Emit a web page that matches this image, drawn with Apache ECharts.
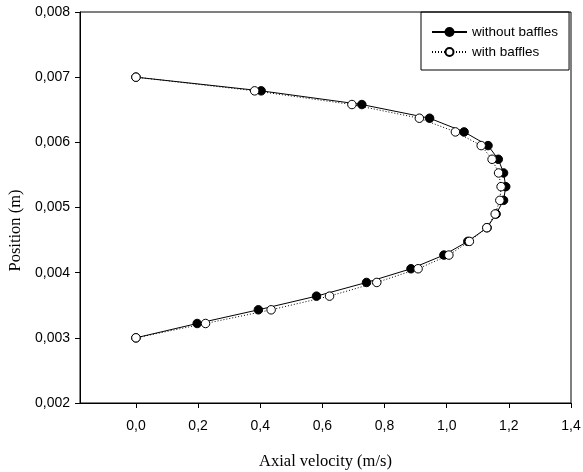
<!DOCTYPE html>
<html>
<head>
	<meta charset="utf-8">
	<title>Axial velocity profile</title>
	<script src="https://cdn.jsdelivr.net/npm/echarts@6/dist/echarts.min.js"></script>
	<style>
		html, body {
			margin: 0;
			padding: 0;
			background: #fff;
		}
		#main {
			width: 583px;
			height: 472px;
		}
	</style>
</head>
<body>
	<div id="main"></div>
	<script type="text/javascript">
		// position across the channel (m)
		var positions = [0.00700, 0.00679, 0.00658, 0.00637, 0.00616, 0.00595, 0.00574, 0.00553, 0.00532, 0.00511,
			0.00490, 0.00469, 0.00448, 0.00427, 0.00406, 0.00385, 0.00364, 0.00343, 0.00322, 0.00300];
		// axial velocity (m/s)
		var withoutBaffles = [0.000, 0.403, 0.727, 0.945, 1.056, 1.133, 1.166, 1.183, 1.190, 1.183,
			1.159, 1.130, 1.068, 0.991, 0.885, 0.742, 0.581, 0.394, 0.197, 0.000];
		var withBaffles = [0.000, 0.382, 0.695, 0.912, 1.028, 1.111, 1.146, 1.167, 1.175, 1.171,
			1.156, 1.129, 1.073, 1.007, 0.908, 0.775, 0.623, 0.435, 0.224, 0.000];
		var xTicks = [0.0, 0.2, 0.4, 0.6, 0.8, 1.0, 1.2, 1.4];

		function pairs(vals) {
			var out = [];
			for (var i = 0; i < vals.length; i++) {
				out.push([vals[i], positions[i]]);
			}
			return out;
		}

		var labelFont = 'Arial, "Liberation Sans", sans-serif';
		var titleFont = '"Times New Roman", "Liberation Serif", serif';

		var option = {
			backgroundColor: '#fff',
			animation: false,
			grid: {
				left: 80,
				right: 12,
				top: 12,
				bottom: 69,
				outerBoundsMode: 'none',
				containLabel: false,
				show: true,
				borderColor: '#000',
				borderWidth: 1
			},
			legend: {
				left: 421,
				top: 12,
				orient: 'vertical',
				borderColor: '#000',
				borderWidth: 1,
				padding: [13, 11, 11, 10],
				itemWidth: 35,
				itemHeight: 10,
				itemGap: 6,
				textStyle: {
					color: '#000',
					fontSize: 13.5,
					fontFamily: labelFont
				},
				data: ['without baffles', 'with baffles']
			},
			xAxis: {
				type: 'value',
				min: -0.18,
				max: 1.4,
				name: 'Axial velocity (m/s)',
				nameLocation: 'middle',
				nameGap: 50,
				nameTextStyle: {
					color: '#000',
					fontSize: 16.5,
					fontFamily: titleFont
				},
				axisLine: {
					onZero: false,
					lineStyle: { color: '#000', width: 1 }
				},
				axisTick: {
					show: true,
					length: 5,
					customValues: xTicks,
					lineStyle: { color: '#000' }
				},
				axisLabel: {
					customValues: xTicks,
					margin: 16,
					color: '#000',
					fontSize: 14,
					fontFamily: labelFont,
					formatter: function(v) {
						return v.toFixed(1).replace('.', ',');
					}
				},
				splitLine: { show: false }
			},
			yAxis: {
				type: 'value',
				min: 0.002,
				max: 0.008,
				interval: 0.001,
				name: 'Position (m)',
				nameLocation: 'middle',
				nameGap: 55,
				nameTextStyle: {
					color: '#000',
					fontSize: 16.5,
					fontFamily: titleFont,
					padding: [0, 46, 0, 0]
				},
				axisLine: {
					onZero: false,
					lineStyle: { color: '#000', width: 1 }
				},
				axisTick: {
					show: true,
					length: 5,
					lineStyle: { color: '#000' }
				},
				axisLabel: {
					margin: 10,
					color: '#000',
					fontSize: 14,
					fontFamily: labelFont,
					formatter: function(v) {
						return v.toFixed(3).replace('.', ',');
					}
				},
				splitLine: { show: false }
			},
			series: [{
				name: 'without baffles',
				type: 'line',
				data: pairs(withoutBaffles),
				symbol: 'circle',
				symbolSize: 8.5,
				showAllSymbol: true,
				lineStyle: { color: '#000', width: 1, type: 'solid' },
				itemStyle: { color: '#000', borderColor: '#000', borderWidth: 1 }
			}, {
				name: 'with baffles',
				type: 'line',
				data: pairs(withBaffles),
				symbol: 'circle',
				symbolSize: 8.5,
				showAllSymbol: true,
				lineStyle: { color: '#000', width: 1, type: [1, 2] },
				itemStyle: { color: '#fff', borderColor: '#000', borderWidth: 1 }
			}]
		};

		var myChart = echarts.init(document.getElementById('main'));
		myChart.setOption(option);
	</script>
</body>
</html>
